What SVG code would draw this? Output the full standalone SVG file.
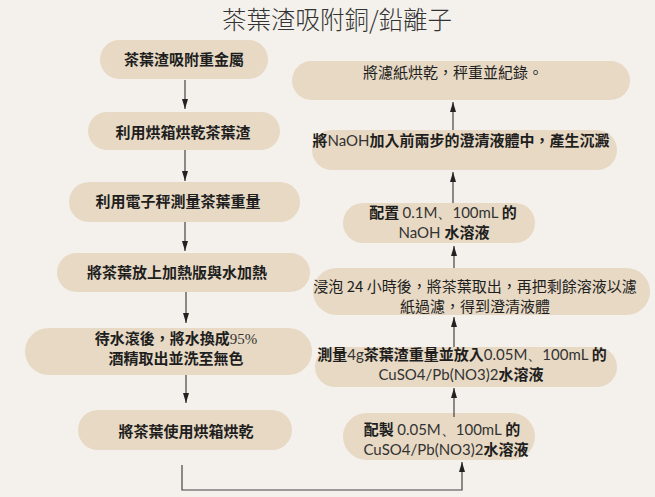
<svg xmlns="http://www.w3.org/2000/svg" width="655" height="497" viewBox="0 0 655 497">
<defs>
<style>
.bg{fill:#f4f1ec}
.pill{fill:#e7d9c4}
.t{font-family:"Noto Sans CJK TC","Noto Sans CJK SC",sans-serif;font-size:15px;fill:#1e1e1e;text-anchor:middle}
.b{font-weight:700}
.lat{font-family:"Lato","Liberation Sans",sans-serif;font-weight:400;fill:#333}
.ser{font-family:"Liberation Serif",serif;font-weight:400;fill:#333}
.title{font-family:"Noto Sans CJK TC","Noto Sans CJK SC",sans-serif;font-size:24.5px;font-weight:300;fill:#333;text-anchor:middle}
.c{fill:none;stroke:#444;stroke-width:1.2}
</style>
<marker id="ah" viewBox="0 0 10 6" refX="10" refY="3" markerWidth="10" markerHeight="6" markerUnits="userSpaceOnUse" orient="auto">
<path d="M0,0 L10,3 L0,6 Z" fill="#222"/>
</marker>
</defs>
<rect class="bg" x="0" y="0" width="655" height="497"/>
<text class="title" x="337" y="29">茶葉渣吸附銅/鉛離子</text>

<g id="L1"><rect class="pill" x="100" y="40" width="168" height="39" rx="19.5"/><text class="t b" x="184" y="65">茶葉渣吸附重金屬</text></g>
<g id="L2"><rect class="pill" x="88" y="112" width="192" height="38" rx="19"/><text class="t b" x="183" y="138">利用烘箱烘乾茶葉渣</text></g>
<g id="L3"><rect class="pill" x="69" y="182" width="231" height="40" rx="20"/><text class="t b" x="178" y="207">利用電子秤測量茶葉重量</text></g>
<g id="L4"><rect class="pill" x="57" y="253" width="253" height="39" rx="19.5"/><text class="t b" x="177" y="278">將茶葉放上加熱版與水加熱</text></g>
<g id="L5"><rect class="pill" x="25" y="328" width="287" height="47" rx="23.5"/><text class="t b" x="176" y="344">待水滾後，將水換成<tspan class="ser">95%</tspan></text><text class="t b" x="176" y="364">酒精取出並洗至無色</text></g>
<g id="L6"><rect class="pill" x="78" y="410" width="214" height="40" rx="20"/><text class="t b" x="186" y="437">將茶葉使用烘箱烘乾</text></g>

<g id="R1"><rect class="pill" x="292" y="61" width="338" height="39" rx="19.5"/><text class="t" x="453" y="78">將濾紙烘乾，秤重並紀錄。</text></g>
<g id="R2"><rect class="pill" x="312" y="130" width="305" height="40" rx="20"/><text class="t" x="461" y="146"><tspan class="b">將</tspan><tspan class="lat">NaOH</tspan><tspan class="b">加入前兩步的澄清液體中，產生沉澱</tspan></text></g>
<g id="R3"><rect class="pill" x="343" y="203" width="192" height="40" rx="20"/><text class="t" x="443" y="218"><tspan class="b">配置 </tspan><tspan class="lat">0.1M、100mL </tspan><tspan class="b">的</tspan></text><text class="t" x="444" y="238"><tspan class="lat">NaOH </tspan><tspan class="b">水溶液</tspan></text></g>
<g id="R4"><rect class="pill" x="313" y="268" width="337" height="47" rx="23.5"/><text class="t" x="475" y="292">浸泡 24 小時後，將茶葉取出，再把剩餘溶液以濾</text><text class="t" x="475" y="312">紙過濾，得到澄清液體</text></g>
<g id="R5"><rect class="pill" x="315" y="347" width="302" height="40" rx="20"/><text class="t" x="462" y="360"><tspan class="b">測量</tspan><tspan class="lat">4g</tspan><tspan class="b">茶葉渣重量並放入</tspan><tspan class="lat">0.05M、100mL </tspan><tspan class="b">的</tspan></text><text class="t" x="461" y="380"><tspan class="lat">CuSO4/Pb(NO3)2</tspan><tspan class="b">水溶液</tspan></text></g>
<g id="R6"><rect class="pill" x="343" y="413" width="192" height="47" rx="23.5"/><text class="t" x="442" y="435"><tspan class="b">配製 </tspan><tspan class="lat">0.05M、100mL </tspan><tspan class="b">的</tspan></text><text class="t" x="446" y="455"><tspan class="lat">CuSO4/Pb(NO3)2</tspan><tspan class="b">水溶液</tspan></text></g>

<g id="connectors">
<path class="c" d="M185,80 V109" marker-end="url(#ah)"/>
<path class="c" d="M185,150 V181" marker-end="url(#ah)"/>
<path class="c" d="M185,222 V251" marker-end="url(#ah)"/>
<path class="c" d="M186,292 V323" marker-end="url(#ah)"/>
<path class="c" d="M186,375 V403" marker-end="url(#ah)"/>
<path class="c" d="M182,465 V490 H462 V462" marker-end="url(#ah)"/>
<path class="c" d="M454,417 V388" marker-end="url(#ah)"/>
<path class="c" d="M454,347 V317" marker-end="url(#ah)"/>
<path class="c" d="M454,268 V246" marker-end="url(#ah)"/>
<path class="c" d="M453,203 V172" marker-end="url(#ah)"/>
<path class="c" d="M453,130 V102" marker-end="url(#ah)"/>
</g>
</svg>
